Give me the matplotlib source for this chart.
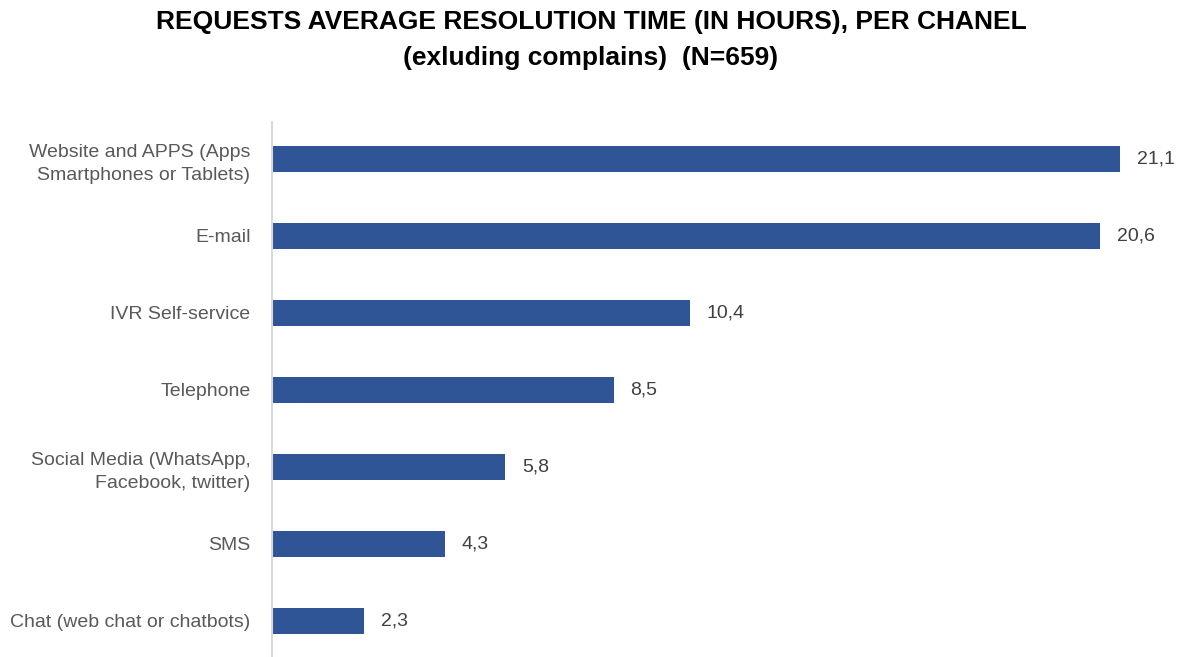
import matplotlib.pyplot as plt

plt.rcParams['font.family'] = ['Liberation Sans Narrow', 'Liberation Sans', 'DejaVu Sans']

channels = ["Website and APPS (Apps\nSmartphones or Tablets)", "E-mail", "IVR Self-service",
            "Telephone", "Social Media (WhatsApp,\nFacebook, twitter)", "SMS",
            "Chat (web chat or chatbots)"]
hours = [21.1, 20.6, 10.4, 8.5, 5.8, 4.3, 2.3]

fig = plt.figure(figsize=(11.82, 6.57), dpi=100)
ax = fig.add_axes([272 / 1182, 0, 1 - 272 / 1182, 1 - 122 / 657])

pos = list(range(len(channels)))
ax.barh(pos, hours, height=0.34, color='#2F5597')
for p, h in zip(pos, hours):
    ax.text(h + 0.42, p, f"{h:.1f}".replace('.', ','), va='center', ha='left',
            fontsize=14, color='#404040')

ax.set_yticks(pos)
ax.set_yticklabels(channels, fontsize=14, color='#595959', linespacing=1.45)
ax.tick_params(axis='y', length=0, pad=15.5)
ax.set_xticks([])
ax.set_xlim(0, 22.64)
ax.set_ylim(6.47, -0.48)
for s in ['top', 'right', 'bottom']:
    ax.spines[s].set_visible(False)
ax.spines['left'].set_color('#D9D9D9')
ax.spines['left'].set_linewidth(1.5)

fig.text(0.5, 1 - 22 / 657, "REQUESTS AVERAGE RESOLUTION TIME (IN HOURS), PER CHANEL",
         ha='center', va='center', fontsize=19, fontweight='bold', color='black')
fig.text(0.5, 1 - 58 / 657, "(exluding complains)  (N=659)",
         ha='center', va='center', fontsize=19, fontweight='bold', color='black')

fig.savefig('out.png', dpi=100)
